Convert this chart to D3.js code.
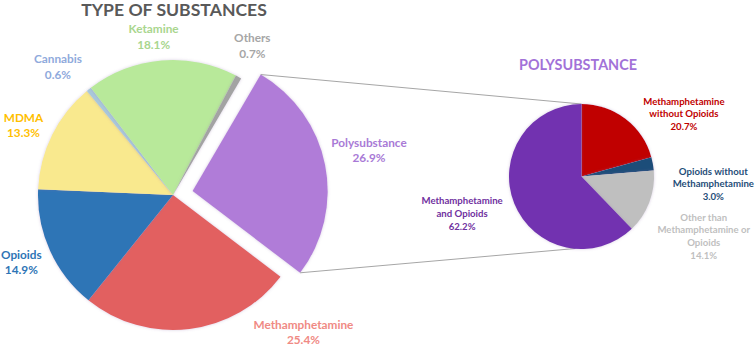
<!DOCTYPE html>
<html>
<head>
<meta charset="utf-8">
<script src="https://cdn.jsdelivr.net/npm/d3@7"></script>
<style>
  html, body { margin: 0; padding: 0; background: #fff; }
  svg { display: block; }
  text { font-family: Lato, "Open Sans", sans-serif; font-weight: 700; }
</style>
</head>
<body>
<svg id="chart" width="755" height="346"></svg>
<script>
// Type of substances (main pie)
const mainCategories = ["Polysubstance", "Methamphetamine", "Opioids", "MDMA", "Cannabis", "Ketamine", "Others"];
const mainValues = [26.9, 25.4, 14.9, 13.3, 0.6, 18.1, 0.7];

// Breakdown of polysubstance (secondary pie)
const polyCategories = ["Methamphetamine without Opioids", "Opioids without Methamphetamine", "Other than Methamphetamine or Opioids", "Methamphetamine and Opioids"];
const polyValues = [20.7, 3.0, 14.1, 62.2];

// Label line breaks for the secondary pie
const polyLabelLines = [
  ["Methamphetamine", "without Opioids"],
  ["Opioids without", "Methamphetamine"],
  ["Other than", "Methamphetamine or", "Opioids"],
  ["Methamphetamine", "and Opioids"]
];

const mainFill = {
  "Polysubstance": "#b07cd8", "Methamphetamine": "#e26060", "Opioids": "#2e75b6",
  "MDMA": "#f9e98e", "Cannabis": "#a9c8da", "Ketamine": "#b8e99a", "Others": "#a3a3a3"
};
const mainText = {
  "Polysubstance": "#a97ad6", "Methamphetamine": "#f08a84", "Opioids": "#2e75b6",
  "MDMA": "#ffc000", "Cannabis": "#8faadc", "Ketamine": "#a9d68e", "Others": "#a6a6a6"
};
const polyFill = ["#c00000", "#1f4e79", "#bfbfbf", "#7232b0"];
const polyText = ["#c00000", "#1f4e79", "#bfbfbf", "#7030a0"];

// Label placement: polar angle (deg, clockwise from 12 o'clock) and distance from the slice's pie centre
const mainLabelPolar = {
  "Polysubstance": [77, 181], "Methamphetamine": [136.5, 189.5], "Opioids": [246, 166],
  "MDMA": [295, 165], "Cannabis": [318, 172], "Ketamine": [353, 159], "Others": [28, 169]
};
const polyLabelPolar = [[58.6, 120], [93.2, 132], [116, 136], [252.8, 125]];

const svg = d3.select("#chart");
const rad = d => d * Math.PI / 180;

const defs = svg.append("defs");
defs.append("filter").attr("id", "soft").attr("x", "-10%").attr("y", "-10%").attr("width", "120%").attr("height", "120%")
  .append("feDropShadow").attr("dx", 0).attr("dy", 0).attr("stdDeviation", 1.4)
  .attr("flood-color", "#8a6aa8").attr("flood-opacity", 0.35);

// ---- main pie ----
const main = { cx: 173, cy: 195, r: 135, explode: 20 };
const startMain = rad(30.3);
const mainPie = d3.pie().sort(null).value(d => d.value)
  .startAngle(startMain).endAngle(startMain + 2 * Math.PI);
const mainData = mainPie(mainCategories.map((c, i) => ({ name: c, value: mainValues[i] })));
const mainArc = d3.arc().innerRadius(0).outerRadius(main.r);

function offsetOf(d) {
  if (d.data.name !== "Polysubstance") return [0, 0];
  const a = (d.startAngle + d.endAngle) / 2;
  return [Math.sin(a) * main.explode, -Math.cos(a) * main.explode];
}

const gMain = svg.append("g").attr("transform", `translate(${main.cx},${main.cy})`);

// ---- secondary pie ----
const sec = { cx: 581.5, cy: 176.5, r: 72.5 };
const secPie = d3.pie().sort(null).value(d => d.value);
const secData = secPie(polyCategories.map((c, i) => ({ name: c, value: polyValues[i] })));
const secArc = d3.arc().innerRadius(0).outerRadius(sec.r);

// connector lines from the exploded slice to the secondary pie
const poly = mainData.find(d => d.data.name === "Polysubstance");
const po = offsetOf(poly);
const cornerA = [main.cx + po[0] + Math.sin(poly.startAngle) * main.r, main.cy + po[1] - Math.cos(poly.startAngle) * main.r];
const cornerB = [main.cx + po[0] + Math.sin(poly.endAngle) * main.r, main.cy + po[1] - Math.cos(poly.endAngle) * main.r];
const conn = svg.append("g").attr("stroke", "#a6a6a6").attr("stroke-width", 1).attr("fill", "none");
conn.append("line").attr("x1", cornerA[0]).attr("y1", cornerA[1]).attr("x2", sec.cx).attr("y2", sec.cy - sec.r);
conn.append("line").attr("x1", cornerB[0]).attr("y1", cornerB[1]).attr("x2", sec.cx - 6).attr("y2", sec.cy + sec.r - 0.5);

gMain.selectAll("path.slice").data(mainData).join("path")
  .attr("class", "slice")
  .attr("d", mainArc)
  .attr("transform", d => `translate(${offsetOf(d)})`)
  .attr("fill", d => mainFill[d.data.name])
  .attr("filter", "url(#soft)");

// main labels
const lh = 15.5;
mainData.forEach(d => {
  const name = d.data.name;
  const o = offsetOf(d);
  const [ang, dist] = mainLabelPolar[name];
  const x = o[0] + Math.sin(rad(ang)) * dist;
  const y = o[1] - Math.cos(rad(ang)) * dist;
  const t = gMain.append("text").attr("text-anchor", "middle")
    .attr("fill", mainText[name]).attr("font-size", 11.8);
  t.append("tspan").attr("x", x).attr("y", y - lh / 2 + 4).text(name);
  t.append("tspan").attr("x", x).attr("y", y + lh / 2 + 4).text(d.data.value.toFixed(1) + "%");
});

const gSec = svg.append("g").attr("transform", `translate(${sec.cx},${sec.cy})`);
gSec.selectAll("path").data(secData).join("path")
  .attr("d", secArc)
  .attr("fill", (d, i) => polyFill[i])
  .attr("filter", "url(#soft)");

const slh = 12.6;
secData.forEach((d, i) => {
  const lines = polyLabelLines[i].concat([d.data.value.toFixed(1) + "%"]);
  const [ang, dist] = polyLabelPolar[i];
  const x = Math.sin(rad(ang)) * dist;
  const y = -Math.cos(rad(ang)) * dist;
  const t = gSec.append("text").attr("text-anchor", "middle")
    .attr("fill", polyText[i]).attr("font-size", 9.6);
  const top = y - (lines.length - 1) * slh / 2 + 3.5;
  lines.forEach((s, k) => t.append("tspan").attr("x", x).attr("y", top + k * slh).text(s));
});

// titles
svg.append("text").attr("x", 174).attr("y", 15.5).attr("text-anchor", "middle")
  .attr("fill", "#595959").attr("font-size", 17.6).text("TYPE OF SUBSTANCES");
svg.append("text").attr("x", 578).attr("y", 70).attr("text-anchor", "middle")
  .attr("fill", "#a272d8").attr("font-size", 14.4).text("POLYSUBSTANCE");
</script>
</body>
</html>
